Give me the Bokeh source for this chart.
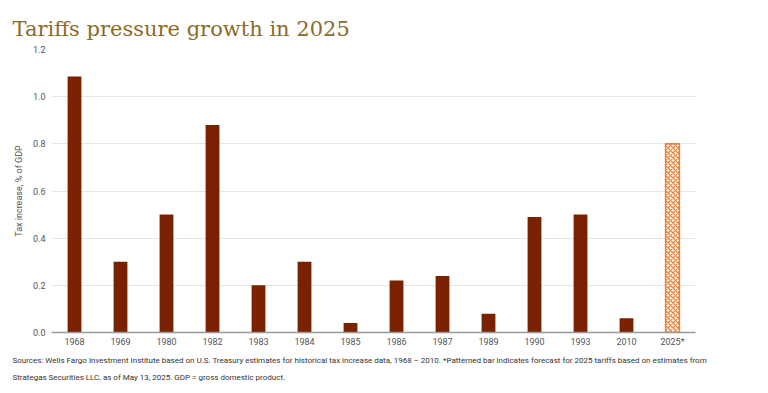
from bokeh.plotting import figure
from bokeh.models import FixedTicker, NumeralTickFormatter, Title, FactorRange
from bokeh.embed import file_html
from bokeh.resources import INLINE

years = ["1968", "1969", "1980", "1982", "1983", "1984", "1985", "1986", "1987", "1989", "1990", "1993", "2010"]
values = [1.085, 0.30, 0.50, 0.88, 0.20, 0.30, 0.04, 0.22, 0.24, 0.08, 0.49, 0.50, 0.06]
forecast_year = ["2025*"]
forecast_value = [0.80]
y_ticks = [0.0, 0.2, 0.4, 0.6, 0.8, 1.0, 1.2]

title_text = "Tariffs pressure growth in 2025"
y_label = "Tax increase, % of GDP"
note1 = ("Sources: Wells Fargo Investment Institute based on U.S. Treasury estimates for historical tax increase data, 1968 \u2013 2010. "
         "*Patterned bar indicates forecast for 2025 tariffs based on estimates from")
note2 = "Strategas Securities LLC, as of May 13, 2025. GDP = gross domestic product."

cats = years + forecast_year

p = figure(x_range=FactorRange(factors=cats, range_padding=0), y_range=(0, 1.2),
           frame_width=644, frame_height=283, output_backend="svg", toolbar_location=None,
           min_border_left=51, min_border_right=60, min_border_top=49, min_border_bottom=0)

p.vbar(x=years, top=values, width=0.3, fill_color="#7A2200", line_color=None)
p.vbar(x=forecast_year, top=forecast_value, width=0.3, fill_color="white",
       line_color="#F08035", line_width=1.5, hatch_pattern="x", hatch_color="#F08035",
       hatch_scale=5, hatch_weight=1.3)

p.outline_line_color = None
p.xgrid.grid_line_color = None
p.ygrid.grid_line_color = "#E6E6DF"
p.ygrid.grid_line_width = 1
p.yaxis.ticker = FixedTicker(ticks=y_ticks)
p.yaxis.formatter = NumeralTickFormatter(format="0.0")
p.yaxis.axis_line_color = None
p.yaxis.major_tick_line_color = None
p.yaxis.major_tick_out = 0
p.yaxis.major_tick_in = 0
p.yaxis.minor_tick_line_color = None
p.yaxis.major_label_standoff = 6
p.yaxis.major_label_text_font = "Roboto"
p.yaxis.major_label_text_font_size = "9px"
p.yaxis.major_label_text_color = "#555555"
p.yaxis.axis_label = y_label
p.yaxis.axis_label_text_font = "Roboto"
p.yaxis.axis_label_text_font_size = "9px"
p.yaxis.axis_label_text_font_style = "normal"
p.yaxis.axis_label_text_color = "#555555"
p.yaxis.axis_label_standoff = 6

p.xaxis.axis_line_color = "#999999"
p.xaxis.axis_line_width = 1.5
p.xaxis.major_tick_line_color = None
p.xaxis.major_tick_out = 0
p.xaxis.major_tick_in = 0
p.xaxis.minor_tick_line_color = None
p.xaxis.major_label_text_font = "Roboto"
p.xaxis.major_label_text_font_size = "9px"
p.xaxis.major_label_text_color = "#555555"
p.xaxis.major_label_standoff = 4

p.title = Title(text=title_text, text_font="DejaVu Serif", text_font_size="21px",
                text_color="#8C6B2A", text_font_style="normal", offset=-39, standoff=18)

t1 = Title(text=note1, text_font="Roboto", text_font_size="8px", text_color="#333333",
           text_font_style="normal", offset=-39, standoff=8)
t2 = Title(text=note2, text_font="Roboto", text_font_size="8px", text_color="#333333",
           text_font_style="normal", offset=-39, standoff=4)
p.add_layout(t1, "below")
p.add_layout(t2, "below")

open("out.html", "w").write(file_html(p, INLINE))
